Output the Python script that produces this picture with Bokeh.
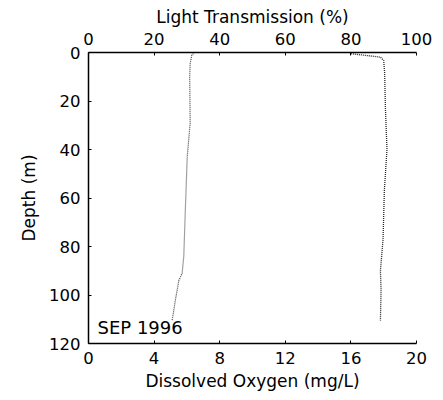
from bokeh.plotting import figure
from bokeh.models import Range1d, LinearAxis, FixedTicker, Label
from bokeh.embed import file_html
from bokeh.resources import INLINE

# Dissolved oxygen profile (mg/L) vs depth (m)
do_depth = [0.5, 1.0, 4.5, 10, 29, 43, 64, 84, 91, 94, 102, 110.5]
do_value = [6.4, 6.3, 6.2, 6.17, 6.2, 6.02, 5.91, 5.81, 5.71, 5.51, 5.3, 5.1]

# Light transmission profile (%) vs depth (m)
lt_depth = [0.5, 1.9, 3.3, 8.7, 22, 40, 57, 77, 90, 98, 110.5]
lt_value = [80, 89, 90.0, 90.3, 90.5, 91.0, 90.2, 89.8, 89.0, 89.2, 89.0]

do_ticks = [0, 4, 8, 12, 16, 20]
lt_ticks = [0, 20, 40, 60, 80, 100]
depth_ticks = [0, 20, 40, 60, 80, 100, 120]

FONT = "DejaVu Sans"
FS = "16.5px"
TS = "17px"

p = figure(width=443, height=400, frame_width=328, frame_height=291,
           x_range=Range1d(0, 20), y_range=Range1d(120, 0),
           output_backend="svg", toolbar_location=None,
           min_border_left=88, min_border_right=27,
           min_border_top=52, min_border_bottom=57)
p.extra_x_ranges = {"lt": Range1d(0, 100)}
p.grid.visible = False
p.outline_line_color = None
p.background_fill_color = "white"
p.border_fill_color = "white"


def style(ax, ticks):
    ax.ticker = FixedTicker(ticks=ticks)
    ax.minor_tick_line_color = None
    ax.major_tick_in = 3
    ax.major_tick_out = 0
    ax.axis_line_color = "black"
    ax.axis_line_width = 1.5
    ax.major_tick_line_color = "black"
    ax.major_label_text_font = FONT
    ax.major_label_text_font_size = FS
    ax.major_label_text_color = "black"
    ax.axis_label_text_font = FONT
    ax.axis_label_text_font_size = TS
    ax.axis_label_text_font_style = "normal"
    ax.axis_label_text_color = "black"


xa = p.xaxis[0]
xa.axis_label = "Dissolved Oxygen (mg/L)"
style(xa, do_ticks)
xa.major_label_standoff = 8
xa.axis_label_standoff = 4

ya = p.yaxis[0]
ya.axis_label = "Depth (m)"
style(ya, depth_ticks)
ya.major_label_standoff = 8
ya.axis_label_standoff = 7

top = LinearAxis(x_range_name="lt", axis_label="Light Transmission (%)")
style(top, lt_ticks)
top.major_label_standoff = 8
top.axis_label_standoff = 3
p.add_layout(top, "above")

p.line(do_value, do_depth, line_color="#444444", line_width=1.2, line_dash="1 1")
p.line(lt_value, lt_depth, x_range_name="lt", line_color="#222222",
       line_width=1.3, line_dash="1 1")

p.add_layout(Label(x=0.55, y=113.4, text="SEP 1996", text_font=FONT,
                   text_font_size="18px", text_color="black",
                   text_baseline="middle", text_align="left"))

open("out.html", "w").write(file_html(p, INLINE))
